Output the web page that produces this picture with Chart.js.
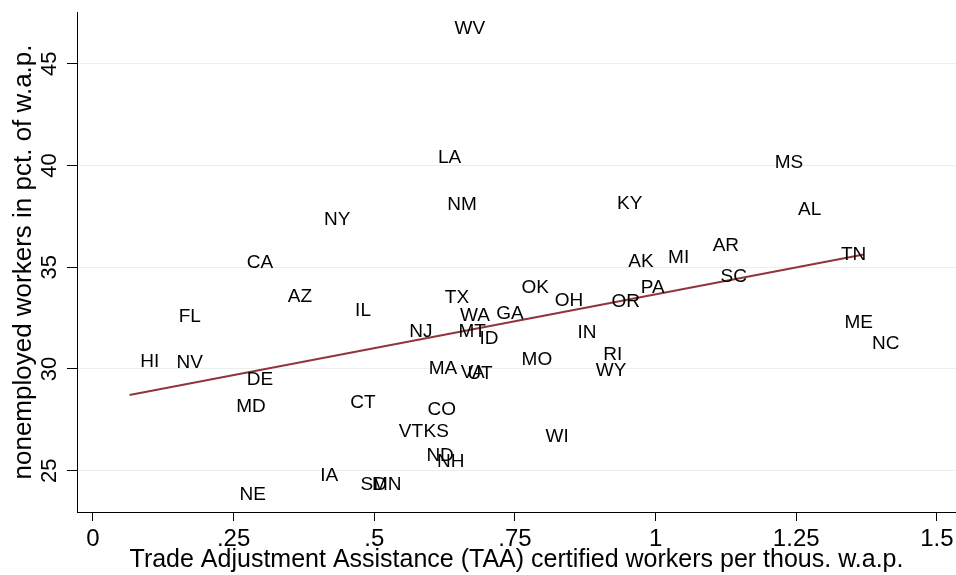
<!DOCTYPE html>
<html>
<head>
  <title>TAA workers vs nonemployment</title>
  <script src="https://cdn.jsdelivr.net/npm/chart.js"></script>
  <style>
    body {
      margin: 0;
      background: #fff;
    }
    canvas {
      display: block;
    }
  </style>
</head>
<body>
  <canvas id="taaChart" width="956" height="575"></canvas>

  <script>
    // state labels and values
    const states = ['WV','LA','MS','NY','NM','KY','AL','AR','TN','CA',
                    'AK','MI','SC','AZ','OK','PA','TX','OH','OR','FL',
                    'IL','WA','GA','ME','NJ','MT','ID','IN','NC','HI',
                    'NV','MO','RI','MA','VA','UT','WY','DE','MD','CT',
                    'CO','VT','KS','WI','ND','NH','IA','SD','MN','NE'];
    const taaWorkers = [0.670,0.634,1.237,0.434,0.656,0.954,1.274,1.125,1.352,0.297,
                        0.974,1.041,1.139,0.368,0.786,0.995,0.647,0.846,0.947,0.172,
                        0.480,0.679,0.741,1.361,0.583,0.674,0.704,0.878,1.409,0.101,
                        0.172,0.789,0.924,0.622,0.675,0.688,0.921,0.297,0.281,0.480,
                        0.620,0.565,0.610,0.825,0.617,0.636,0.420,0.499,0.522,0.284];
    const nonemployed = [46.71,40.37,40.12,37.32,38.06,38.11,37.81,36.04,35.60,35.21,
                         35.26,35.45,34.52,33.54,33.98,33.98,33.49,33.34,33.29,32.56,
                         32.85,32.60,32.70,32.26,31.82,31.82,31.47,31.77,31.23,30.34,
                         30.29,30.44,30.69,30.00,29.80,29.75,29.90,29.46,28.13,28.33,
                         27.99,26.90,26.90,26.66,25.72,25.43,24.74,24.30,24.30,23.81];

    // fitted line end points
    const fitX = [0.065, 1.37];
    const fitY = [28.72, 35.62];

    const xTicks = [0, 0.25, 0.5, 0.75, 1, 1.25, 1.5];
    const yTicks = [25, 30, 35, 40, 45];

    const fontFamily = "'Liberation Sans', Arial, sans-serif";

    // draw the state abbreviations centred on each point
    const stateLabels = {
      id: 'stateLabels',
      afterDatasetsDraw(chart) {
        const ctx = chart.ctx;
        const meta = chart.getDatasetMeta(1);
        ctx.save();
        ctx.font = '19px ' + fontFamily;
        ctx.fillStyle = '#000';
        ctx.textAlign = 'center';
        ctx.textBaseline = 'middle';
        meta.data.forEach((pt, i) => {
          ctx.fillText(states[i], pt.x, pt.y);
        });
        ctx.restore();
      }
    };

    // fixed axis sizes, and no extra room reserved for overhanging tick labels
    function fixBox(scale, size) {
      if (scale.isHorizontal()) scale.height = size;
      else scale.width = size;
      scale.paddingLeft = 0;
      scale.paddingRight = 0;
      scale.paddingTop = 0;
      scale.paddingBottom = 0;
    }

    const ctx = document.getElementById('taaChart').getContext('2d');
    const chart = new Chart(ctx, {
      type: 'scatter',
      data: {
        datasets: [{
          data: fitX.map((x, i) => ({ x: x, y: fitY[i] })),
          showLine: true,
          borderColor: '#90353b',
          borderWidth: 2,
          pointRadius: 0
        }, {
          data: taaWorkers.map((x, i) => ({ x: x, y: nonemployed[i] })),
          pointRadius: 0,
          pointHoverRadius: 0
        }]
      },
      options: {
        responsive: false,
        animation: false,
        layout: { padding: { top: 12, right: 0, left: 0, bottom: 0 } },
        plugins: {
          legend: { display: false },
          tooltip: { enabled: false }
        },
        scales: {
          x: {
            type: 'linear',
            min: -0.0284,
            max: 1.534,
            afterBuildTicks: scale => { scale.ticks = xTicks.map(v => ({ value: v })); },
            afterFit: scale => fixBox(scale, 63),
            ticks: {
              color: '#000',
              font: { family: fontFamily, size: 24 },
              padding: 4,
              maxRotation: 0,
              callback: v => v === 0 ? '0' : String(v).replace(/^0/, '')
            },
            grid: {
              drawOnChartArea: false,
              tickLength: 9,
              tickColor: '#000',
              tickWidth: 1
            },
            border: { color: '#000', width: 1 },
            title: {
              display: true,
              text: 'Trade Adjustment Assistance (TAA) certified workers per thous. w.a.p.',
              color: '#000',
              font: { family: fontFamily, size: 25 },
              padding: { top: 0, bottom: 0 }
            }
          },
          y: {
            type: 'linear',
            min: 22.97,
            max: 47.54,
            afterBuildTicks: scale => { scale.ticks = yTicks.map(v => ({ value: v })); },
            afterFit: scale => fixBox(scale, 77),
            ticks: {
              color: '#000',
              font: { family: fontFamily, size: 22 },
              minRotation: 90,
              maxRotation: 90,
              crossAlign: 'center',
              padding: 5
            },
            grid: {
              color: '#e8efef',
              tickLength: 10,
              tickColor: '#000',
              tickWidth: 1
            },
            border: { color: '#000', width: 1 },
            title: {
              display: true,
              text: 'nonemployed workers in pct. of w.a.p.',
              color: '#000',
              font: { family: fontFamily, size: 26 },
              padding: { top: 8, bottom: 0 }
            }
          }
        }
      },
      plugins: [stateLabels]
    });
  </script>
</body>
</html>
